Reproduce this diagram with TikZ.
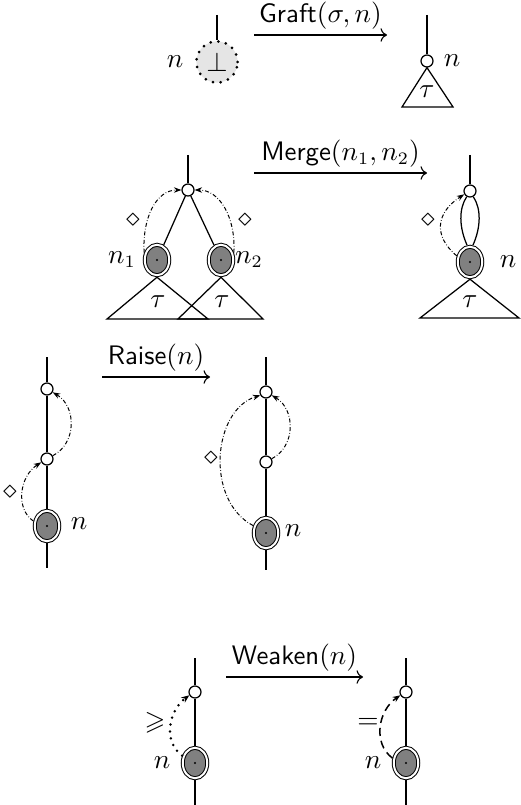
\documentclass[tikz,border=0pt]{standalone}
\usepackage{amssymb}
\usetikzlibrary{shapes.geometric,arrows.meta}
\begin{document}
\begin{tikzpicture}[x=0.4pt,y=-0.4pt,
  every node/.style={font=\fontsize{10.7}{13}\selectfont},
  wire/.style={line width=0.5pt},
  hole/.style={circle,draw,fill=white,line width=0.5pt,minimum size=4.8pt,inner sep=0pt},
  var/.style={ellipse,draw,double,double distance=0.8pt,line width=0.4pt,fill=gray,
    minimum width=9.8pt,minimum height=12.2pt,inner sep=0pt,outer sep=0.8pt,
    path picture={\fill[black] (path picture bounding box.center) circle (0.45pt);}},
  botnode/.style={circle,draw,fill=gray!20,minimum size=16.5pt,inner sep=0pt,
    line width=1.2pt,line cap=round,dash pattern=on 0pt off 3.1pt},
  dd/.style={line width=0.4pt,dash pattern=on 1.6pt off 0.8pt on 0.25pt off 0.8pt,
    -{Stealth[length=3pt,width=2.2pt]}},
  dotarc/.style={line width=1.1pt,line cap=round,dash pattern=on 0pt off 2.8pt,
    -{Stealth[length=3.2pt,width=2.6pt]}},
  dasharc/.style={line width=0.6pt,dash pattern=on 3.2pt off 2pt,
    -{Stealth[length=3pt,width=2.4pt]}},
  op/.style={->,line width=0.45pt},
  oplabel/.style={above,inner sep=2pt}]
\useasboundingbox (0,0) rectangle (520,805);

% ---------- Graft ----------
\coordinate (gtop) at (217,15);
\node[botnode] (gb) at (217,62) {$\bot$};
\draw[wire] (gtop) -- (gb);
\node (gn) at (175,62) {$n$};
\coordinate (ga) at (254,35);
\coordinate (gz) at (387,35);
\draw[op] (ga) -- node[oplabel] (gl) {\textsf{Graft}$(\sigma,n)$} (gz);
\coordinate (gtop2) at (427,15);
\node[hole] (gh) at (427,61) {};
\draw[wire] (gtop2) -- (gh);
\node (gn2) at (452,61) {$n$};
\draw[wire] (gh.south) -- (402,107) -- (453,107) -- cycle;
\node (gt) at (427,92) {$\tau$};

% ---------- Merge ----------
\coordinate (mtop) at (188,155);
\node[hole] (m0) at (188,190) {};
\node[var] (m1) at (157,260) {};
\node[var] (m2) at (221,260) {};
\draw[wire] (mtop) -- (m0);
\draw[wire] (m0) -- (m1);
\draw[wire] (m0) -- (m2);
\draw[wire] (m1.south) -- (107,319) -- (208,319) -- cycle;
\draw[wire] (m2.south) -- (178,319) -- (263,319) -- cycle;
\node (mt1) at (158,302) {$\tau$};
\node (mt2) at (222,302) {$\tau$};
\node (mn1) at (122,260) {$n_1$};
\node (mn2) at (249,260) {$n_2$};
\draw[dd] (m1.150) .. controls +(-2,-35) and +(-25,0) .. (m0.west);
\draw[dd] (m2.30) .. controls +(2,-35) and +(25,0) .. (m0.east);
\node (md1) at (133,220) {$\diamond$};
\node (md2) at (245,220) {$\diamond$};

\coordinate (ma) at (254,173);
\coordinate (mz) at (427,173);
\draw[op] (ma) -- node[oplabel] (ml) {\textsf{Merge}$(n_1,n_2)$} (mz);

\coordinate (rtop) at (470,155);
\node[hole] (r0) at (470,191) {};
\node[var] (r1) at (470,262) {};
\draw[wire] (rtop) -- (r0);
\draw[wire] (r0.-120) .. controls +(-8,12) and +(-8,-18) .. (r1.100);
\draw[wire] (r0.-60) .. controls +(8,12) and +(8,-18) .. (r1.80);
\draw[dd] (r1.155) .. controls +(-24,-20) and +(-28,18) .. (r0.-150);
\node (rd) at (428,220) {$\diamond$};
\node (rn) at (508,262) {$n$};
\draw[wire] (r1.south) -- (420,318) -- (519,318) -- cycle;
\node (rt) at (470,302) {$\tau$};

% ---------- Raise ----------
\coordinate (atop) at (47,357);
\node[hole] (a1) at (47,389) {};
\node[hole] (a2) at (47,459) {};
\node[var] (a3) at (47,526) {};
\coordinate (abot) at (47,568);
\draw[wire] (atop) -- (a1);
\draw[wire] (a1) -- (a2);
\draw[wire] (a2) -- (a3);
\draw[wire] (a3) -- (abot);
\draw[dd] (a2.30) .. controls +(24,-12) and +(24,14) .. (a1.-30);
\draw[dd] (a3.160) .. controls +(-18,-12) and +(-22,14) .. (a2.-150);
\node (ad) at (10,492) {$\diamond$};
\node (an) at (79,524) {$n$};

\coordinate (aa) at (102,377);
\coordinate (az) at (210,377);
\draw[op] (aa) -- node[oplabel] (al) {\textsf{Raise}$(n)$} (az);

\coordinate (btop) at (266,357);
\node[hole] (b1) at (266,392) {};
\node[hole] (b2) at (266,462) {};
\node[var] (b3) at (266,533) {};
\coordinate (bbot) at (266,570);
\draw[wire] (btop) -- (b1);
\draw[wire] (b1) -- (b2);
\draw[wire] (b2) -- (b3);
\draw[wire] (b3) -- (bbot);
\draw[dd] (b2.30) .. controls +(24,-12) and +(24,14) .. (b1.-30);
\draw[dd] (b3.150) .. controls +(-48,-25) and +(-48,15) .. (b1.-150);
\node (bd) at (211,458) {$\diamond$};
\node (bn) at (293,531) {$n$};

% ---------- Weaken ----------
\coordinate (wtop) at (195,658);
\node[hole] (w1) at (195,692) {};
\node[var] (w2) at (195,763) {};
\coordinate (wbot) at (195,805);
\draw[wire] (wtop) -- (w1);
\draw[wire] (w1) -- (w2);
\draw[wire] (w2) -- (wbot);
\draw[dotarc] (w2.150) .. controls +(-20,-15) and +(-20,15) .. (w1.-150);
\node (wg) at (155,723) {$\geqslant$};
\node (wn) at (162,763) {$n$};

\coordinate (wa) at (226,677);
\coordinate (wz) at (363,677);
\draw[op] (wa) -- node[oplabel] (wl) {\textsf{Weaken}$(n)$} (wz);

\coordinate (vtop) at (406,658);
\node[hole] (v1) at (406,692) {};
\node[var] (v2) at (406,763) {};
\coordinate (vbot) at (406,805);
\draw[wire] (vtop) -- (v1);
\draw[wire] (v1) -- (v2);
\draw[wire] (v2) -- (vbot);
\draw[dasharc] (v2.160) .. controls +(-20,-15) and +(-22,15) .. (v1.-150);
\node (ve) at (368,723) {$=$};
\node (vn) at (373,763) {$n$};
\end{tikzpicture}
\end{document}
